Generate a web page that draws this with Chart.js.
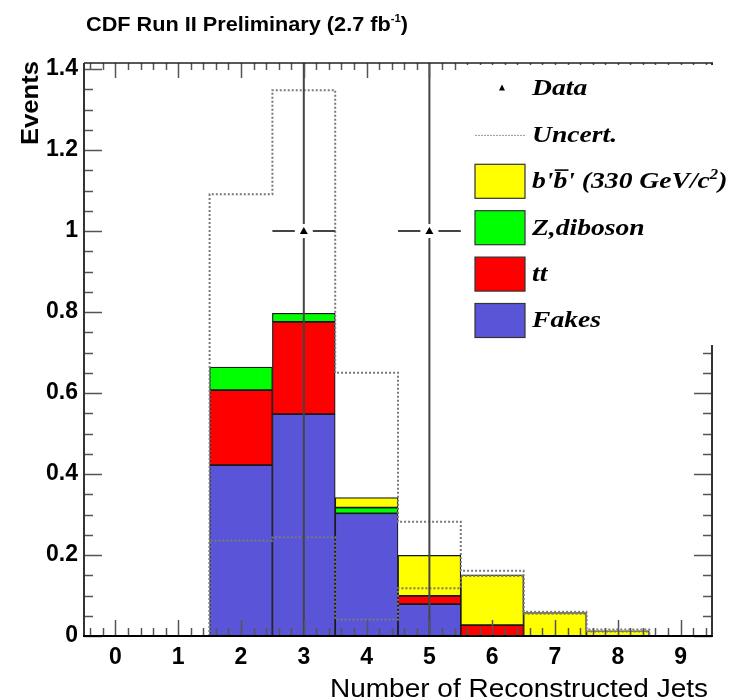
<!DOCTYPE html>
<html>
<head>
<meta charset="utf-8">
<script src="https://cdn.jsdelivr.net/npm/chart.js@4.4.1/dist/chart.umd.min.js"></script>
<style>
  body { margin: 0; background: #fff; }
  canvas { display: block; }
</style>
</head>
<body>
<canvas id="jetChart" width="741" height="700"></canvas>
<script>
// jet multiplicity bins
const bins = [0, 1, 2, 3, 4, 5, 6, 7, 8, 9];
const xTickLabels = ['0', '1', '2', '3', '4', '5', '6', '7', '8', '9'];
const yTicks = [0, 0.2, 0.4, 0.6, 0.8, 1.0, 1.2, 1.4];
const yTickLabels = ['0', '0.2', '0.4', '0.6', '0.8', '1', '1.2', '1.4'];

// stacked backgrounds + signal
const fakes    = [0, 0, 0.422, 0.548, 0.303, 0.079, 0, 0, 0, 0];
const ttbar    = [0, 0, 0.185, 0.228, 0, 0.020, 0.027, 0, 0, 0];
const zDiboson = [0, 0, 0.057, 0.021, 0.014, 0, 0, 0, 0, 0];
const bPrime   = [0, 0, 0, 0, 0.025, 0.100, 0.124, 0.058, 0.013, 0];

// dotted uncertainty envelope
const uncertUp   = [null, null, 1.091, 1.348, 0.650, 0.282, 0.161, 0.060, 0.016, null];
const uncertDown = [null, null, 0.235, 0.244, 0.041, 0.118, 0.148, 0.055, 0.011, null];

// observed events
const dataCounts  = [null, null, null, 1, null, 1, null, null, null, null];
const dataErrLow  = [null, null, null, 1, null, 1, null, null, null, null];
const dataErrHigh = [null, null, null, 2.3, null, 2.3, null, null, null, null];

const colFakes = '#5a55d8';
const colTt = '#ff0000';
const colZ = '#00ff00';
const colBp = '#ffff00';

const toPoints = arr => bins.map((b, i) => ({ x: b, y: arr[i] > 0 ? arr[i] : null }));

const sansFont = "'Liberation Sans', Arial, sans-serif";
const serifFont = "'Liberation Serif', 'Times New Roman', serif";

// draw text squeezed/stretched to a given width
function fitText(ctx, text, x, y, width) {
    const w = ctx.measureText(text).width;
    ctx.save();
    ctx.translate(x, y);
    ctx.scale(width / w, 1);
    ctx.fillText(text, 0, 0);
    ctx.restore();
}

const rootStyle = {
    id: 'rootStyle',
    afterDatasetsDraw(chart) {
        const { ctx, chartArea: a, scales: { x, y } } = chart;

        ctx.save();
        ctx.beginPath();
        ctx.rect(a.left, a.top, a.right - a.left, a.bottom - a.top);
        ctx.clip();

        // uncertainty envelope, histogram style
        function stepLine(vals) {
            const idx = bins.map((b, i) => i).filter(i => vals[i] !== null);
            ctx.beginPath();
            ctx.moveTo(x.getPixelForValue(bins[idx[0]] - 0.5), y.getPixelForValue(0));
            idx.forEach(i => {
                ctx.lineTo(x.getPixelForValue(bins[i] - 0.5), y.getPixelForValue(vals[i]));
                ctx.lineTo(x.getPixelForValue(bins[i] + 0.5), y.getPixelForValue(vals[i]));
            });
            ctx.lineTo(x.getPixelForValue(bins[idx[idx.length - 1]] + 0.5), y.getPixelForValue(0));
            ctx.stroke();
        }
        ctx.strokeStyle = '#7a7a7a';
        ctx.lineWidth = 2;
        ctx.setLineDash([2, 2]);
        stepLine(uncertUp);
        stepLine(uncertDown);
        ctx.setLineDash([]);

        // data points with error bars
        ctx.strokeStyle = '#444';
        ctx.lineWidth = 2;
        bins.forEach((b, i) => {
            if (dataCounts[i] === null) return;
            const cx = x.getPixelForValue(b);
            const cy = y.getPixelForValue(dataCounts[i]);
            const yLo = y.getPixelForValue(dataCounts[i] - dataErrLow[i]);
            const yHi = y.getPixelForValue(dataCounts[i] + dataErrHigh[i]);
            ctx.beginPath();
            ctx.moveTo(cx, yHi); ctx.lineTo(cx, cy - 7);
            ctx.moveTo(cx, cy + 7); ctx.lineTo(cx, yLo);
            ctx.moveTo(x.getPixelForValue(b - 0.5), cy); ctx.lineTo(cx - 9, cy);
            ctx.moveTo(cx + 9, cy); ctx.lineTo(x.getPixelForValue(b + 0.5), cy);
            ctx.stroke();
            ctx.fillStyle = '#000';
            ctx.beginPath();
            ctx.moveTo(cx, cy - 4);
            ctx.lineTo(cx + 4, cy + 3);
            ctx.lineTo(cx - 4, cy + 3);
            ctx.closePath();
            ctx.fill();
        });
        ctx.restore();

        // inward ticks on all four sides
        ctx.save();
        ctx.strokeStyle = '#555';
        ctx.lineWidth = 1.5;
        ctx.beginPath();
        for (let k = 0; k <= 28; k++) {
            const py = Math.round(y.getPixelForValue(k * 0.05)) + 0.5;
            const len = k % 4 === 0 ? 18 : 9;
            ctx.moveTo(a.left, py); ctx.lineTo(a.left + len, py);
            ctx.moveTo(a.right, py); ctx.lineTo(a.right - len, py);
        }
        for (let k = -2; k <= 47; k++) {
            const v = k * 0.2;
            if (v < -0.5 || v > 9.5) continue;
            const px = Math.round(x.getPixelForValue(v)) + 0.5;
            const major = k % 5 === 0;
            ctx.moveTo(px, a.bottom); ctx.lineTo(px, a.bottom - (major ? 16 : 8));
            ctx.moveTo(px, a.top); ctx.lineTo(px, a.top + (major ? 15 : 7));
        }
        ctx.stroke();

        // frame
        ctx.strokeStyle = '#333';
        ctx.lineWidth = 2;
        ctx.beginPath();
        ctx.moveTo(a.left, a.top); ctx.lineTo(a.left, a.bottom);
        ctx.moveTo(a.right, a.top); ctx.lineTo(a.right, a.bottom);
        ctx.stroke();
        ctx.strokeStyle = '#000';
        ctx.beginPath();
        ctx.moveTo(a.left - 1, a.bottom); ctx.lineTo(a.right + 1, a.bottom);
        ctx.stroke();
        ctx.lineWidth = 1.5;
        ctx.strokeStyle = '#222';
        ctx.beginPath();
        ctx.moveTo(a.left, a.top); ctx.lineTo(a.right + 1, a.top);
        ctx.stroke();

        // legend box (white, hides frame behind it)
        const lx = 462, ly = 65;
        ctx.fillStyle = '#fff';
        ctx.fillRect(lx, ly, 256, 280);

        const rowY = i => 88.5 + 46.4 * i;
        const sw = { x: 475, w: 50, h: 34 };
        const stretch = 1.2;
        ctx.textBaseline = 'middle';
        ctx.textAlign = 'left';

        function label(parts, i) {
            ctx.save();
            ctx.translate(532, rowY(i) + 1);
            ctx.scale(stretch, 1);
            ctx.fillStyle = '#000';
            let cx = 0;
            parts.forEach(p => {
                ctx.font = (p.sup ? 'bold italic 14px ' : 'bold italic 23px ') + serifFont;
                const w = ctx.measureText(p.t).width;
                ctx.fillText(p.t, cx, p.sup ? -7 : 0);
                if (p.bar) {
                    ctx.fillRect(cx + 1, -13, w, 1.6);
                }
                cx += w;
            });
            ctx.restore();
        }

        // Data
        ctx.fillStyle = '#000';
        ctx.beginPath();
        ctx.moveTo(502, rowY(0) - 4);
        ctx.lineTo(505, rowY(0) + 2);
        ctx.lineTo(499, rowY(0) + 2);
        ctx.closePath();
        ctx.fill();
        label([{ t: 'Data' }], 0);

        // Uncert.
        ctx.strokeStyle = '#9a9a9a';
        ctx.lineWidth = 1;
        ctx.setLineDash([2, 1]);
        ctx.beginPath();
        ctx.moveTo(sw.x, rowY(1) + 0.5); ctx.lineTo(sw.x + sw.w, rowY(1) + 0.5);
        ctx.stroke();
        ctx.setLineDash([]);
        label([{ t: 'Uncert.' }], 1);

        const boxes = [
            { c: colBp, parts: [{ t: "b'" }, { t: 'b', bar: true }, { t: "' (330 GeV/c" }, { t: '2', sup: true }, { t: ')' }] },
            { c: colZ, parts: [{ t: 'Z,diboson' }] },
            { c: colTt, parts: [{ t: 'tt' }] },
            { c: colFakes, parts: [{ t: 'Fakes' }] }
        ];
        boxes.forEach((bx, k) => {
            const i = k + 2;
            ctx.fillStyle = bx.c;
            ctx.fillRect(sw.x, rowY(i) - sw.h / 2, sw.w, sw.h);
            ctx.strokeStyle = '#333';
            ctx.lineWidth = 1.2;
            ctx.strokeRect(sw.x, rowY(i) - sw.h / 2, sw.w, sw.h);
            label(bx.parts, i);
        });
        ctx.restore();
    },
    afterDraw(chart) {
        const ctx = chart.ctx;
        ctx.save();
        ctx.fillStyle = '#000';
        ctx.textAlign = 'left';
        ctx.textBaseline = 'alphabetic';

        // header
        const main = 'CDF Run II Preliminary (2.7 fb';
        ctx.font = 'bold 21px ' + sansFont;
        const wMain = ctx.measureText(main).width;
        const wEnd = ctx.measureText(')').width;
        ctx.font = 'bold 11px ' + sansFont;
        const wSup = ctx.measureText('-1').width;
        const sx = 322 / (wMain + wSup + wEnd);
        ctx.translate(86, 31);
        ctx.scale(sx, 1);
        ctx.font = 'bold 21px ' + sansFont;
        ctx.fillText(main, 0, 0);
        ctx.font = 'bold 11px ' + sansFont;
        ctx.fillText('-1', wMain, -9);
        ctx.font = 'bold 21px ' + sansFont;
        ctx.fillText(')', wMain + wSup, 0);
        ctx.restore();

        // axis titles
        ctx.save();
        ctx.fillStyle = '#000';
        ctx.textBaseline = 'alphabetic';
        ctx.font = '25px ' + sansFont;
        fitText(ctx, 'Number of Reconstructed Jets', 330, 697, 378);
        ctx.translate(38, 145);
        ctx.rotate(-Math.PI / 2);
        ctx.font = 'bold 24px ' + sansFont;
        fitText(ctx, 'Events', 0, 0, 84);
        ctx.restore();
    }
};

const chart = new Chart(document.getElementById('jetChart'), {
    type: 'bar',
    data: {
        datasets: [
            { label: 'Fakes', data: toPoints(fakes), backgroundColor: colFakes },
            { label: 'tt', data: toPoints(ttbar), backgroundColor: colTt },
            { label: 'Z,diboson', data: toPoints(zDiboson), backgroundColor: colZ },
            { label: "b'b' (330 GeV/c2)", data: toPoints(bPrime), backgroundColor: colBp }
        ]
    },
    options: {
        responsive: false,
        animation: false,
        devicePixelRatio: 1,
        layout: { padding: { left: 0, top: 63, right: 29, bottom: 0 } },
        datasets: {
            bar: {
                categoryPercentage: 1,
                barPercentage: 1,
                borderWidth: 1.2,
                borderColor: '#1a1a1a',
                borderSkipped: false
            }
        },
        plugins: {
            legend: { display: false },
            tooltip: { enabled: false },
            title: { display: false }
        },
        scales: {
            x: {
                type: 'linear',
                min: -0.5,
                max: 9.5,
                offset: false,
                stacked: true,
                grid: { display: false, drawTicks: false, offset: false },
                border: { display: false },
                afterBuildTicks: scale => { scale.ticks = bins.map(v => ({ value: v })); },
                afterFit: scale => { scale.height = 64; },
                ticks: {
                    autoSkip: false,
                    maxRotation: 0,
                    padding: 8,
                    color: '#000',
                    font: { family: sansFont, size: 23, weight: 'bold' },
                    callback: (v, i) => xTickLabels[i]
                }
            },
            y: {
                min: 0,
                max: 1.415,
                stacked: true,
                grid: { display: false, drawTicks: false },
                border: { display: false },
                afterBuildTicks: scale => { scale.ticks = yTicks.map(v => ({ value: v })); },
                afterFit: scale => { scale.width = 84; },
                ticks: {
                    autoSkip: false,
                    padding: 6,
                    color: '#000',
                    font: { family: sansFont, size: 23, weight: 'bold' },
                    callback: (v, i) => yTickLabels[i]
                }
            }
        }
    },
    plugins: [rootStyle]
});
</script>
</body>
</html>
